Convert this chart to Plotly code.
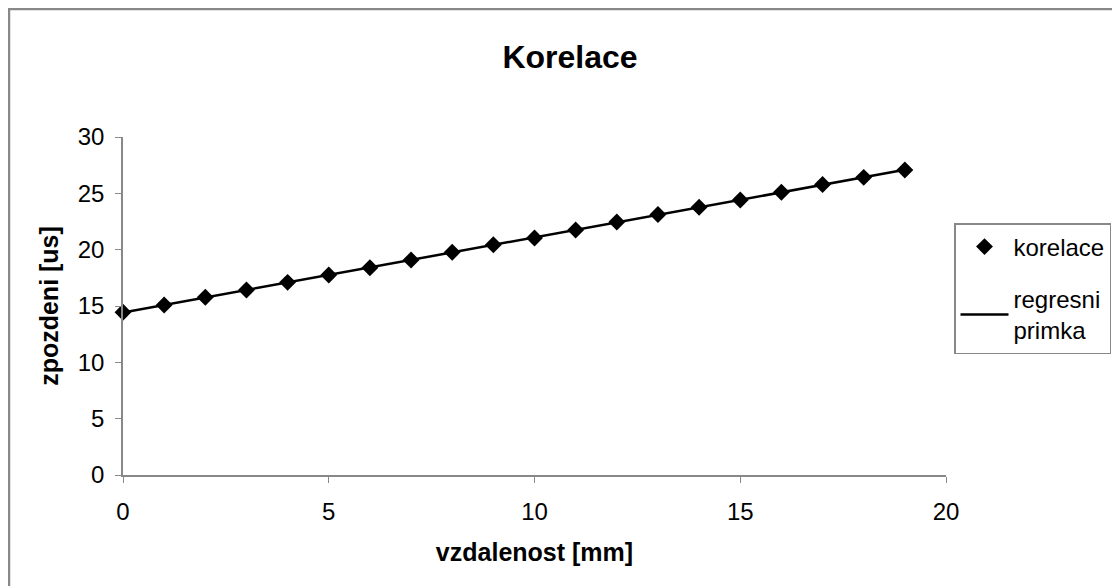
import numpy as np
import plotly.graph_objects as go

# data
vzdalenost = [0, 1, 2, 3, 4, 5, 6, 7, 8, 9, 10, 11, 12, 13, 14, 15, 16, 17, 18, 19]
zpozdeni = [14.44, 15.09, 15.77, 16.42, 17.1, 17.75, 18.4, 19.08, 19.77, 20.44,
            21.04, 21.75, 22.46, 23.12, 23.76, 24.41, 25.09, 25.78, 26.42, 27.07]
x_ticks = [0, 5, 10, 15, 20]
y_ticks = [0, 5, 10, 15, 20, 25, 30]

slope, intercept = np.polyfit(vzdalenost, zpozdeni, 1)
reg_x = [vzdalenost[0], vzdalenost[-1]]
reg_y = [intercept + slope * v for v in reg_x]

FONT = "Liberation Sans, Arial, sans-serif"

fig = go.Figure()
fig.add_trace(go.Scatter(
    x=reg_x, y=reg_y, mode="lines", name="regresni<br>primka",
    line=dict(color="black", width=2.5), legendgroup="b", legendrank=2,
    cliponaxis=False,
))
fig.add_trace(go.Scatter(
    x=vzdalenost, y=zpozdeni, mode="markers", name="korelace",
    marker=dict(symbol="diamond", size=13, color="black"),
    legendgroup="a", legendrank=1, cliponaxis=False,
))

# page is drawn with an 8px body offset; positions below are page pixels
OFF = 8
W, H = 1120, 586
L, R, T, B = 123 - OFF, 1120 - (946 - OFF), 137 - OFF, 586 - (475 - OFF)
pw, ph = W - L - R, H - T - B

def px(xp):
    return (xp - OFF - L) / pw

def py(yp):
    return (H - B - (yp - OFF)) / ph

fig.update_layout(
    width=W, height=H,
    margin=dict(l=L, r=R, t=T, b=B),
    paper_bgcolor="white", plot_bgcolor="white",
    font=dict(family=FONT, color="black", size=24),
    title=dict(text="<b>Korelace</b>", x=(570 - OFF) / W, xanchor="center",
               y=1 - (57 - OFF) / H, yanchor="middle", yref="container",
               font=dict(size=32, family=FONT, color="black")),
    showlegend=True,
    legend=dict(x=px(954), y=py(223), xanchor="left", yanchor="top",
                bordercolor="#888888", borderwidth=1.5, bgcolor="white",
                font=dict(size=24, family=FONT), traceorder="grouped",
                tracegroupgap=18, itemwidth=48),
    xaxis=dict(range=[0, 20], tickvals=x_ticks, ticks="outside", ticklen=6,
               tickcolor="#888888", showline=True, linecolor="#888888", linewidth=1.5,
               showgrid=False, zeroline=False, ticklabelstandoff=8,
               tickfont=dict(size=24),
               title=dict(text="<b>vzdalenost [mm]</b>", standoff=20,
                          font=dict(size=25))),
    yaxis=dict(range=[0, 30], tickvals=y_ticks, ticks="outside", ticklen=6,
               tickcolor="#888888", showline=True, linecolor="#888888", linewidth=1.5,
               showgrid=False, zeroline=False, ticklabelstandoff=6,
               tickfont=dict(size=24),
               title=dict(text="<b>zpozdeni [us]</b>", standoff=12,
                          font=dict(size=25))),
    shapes=[dict(type="rect", xref="paper", yref="paper",
                 x0=px(9), x1=px(1135), y0=py(600), y1=py(9),
                 line=dict(color="#888888", width=2.5), layer="below")],
)

fig.write_html("out.html")
